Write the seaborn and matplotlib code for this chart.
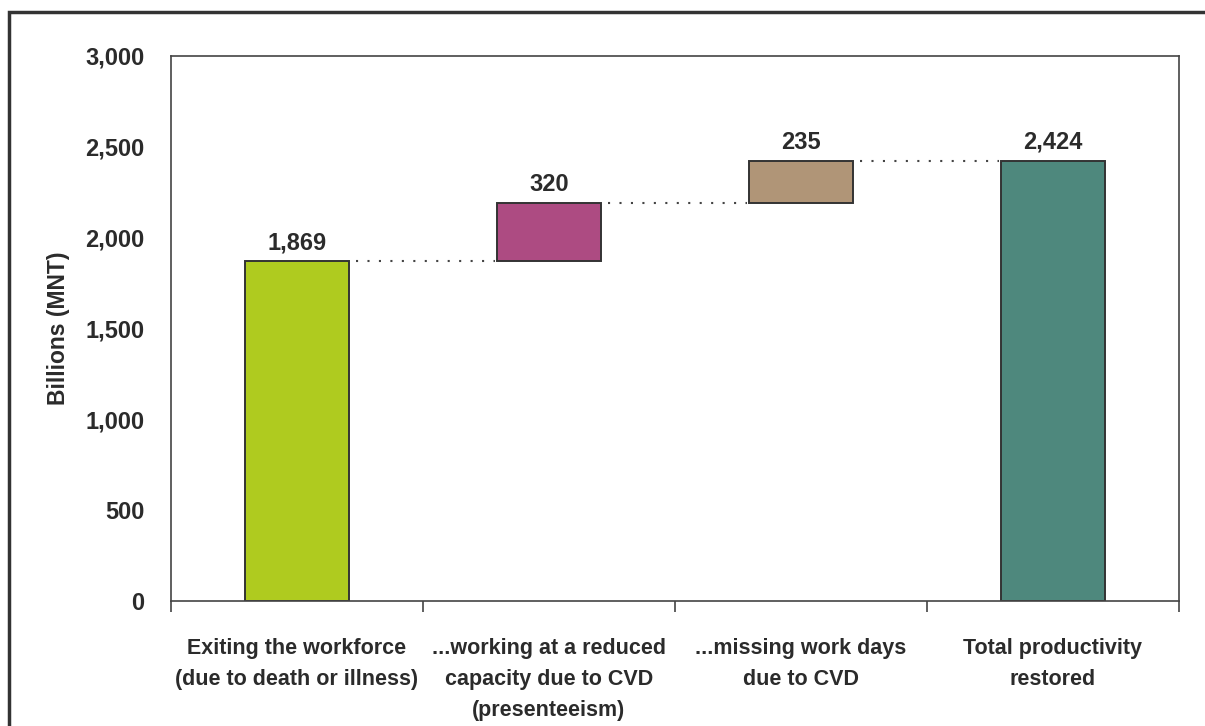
import matplotlib
matplotlib.use("Agg")
import matplotlib.pyplot as plt
from matplotlib.patches import Rectangle
from matplotlib.ticker import FuncFormatter
import seaborn as sns
import numpy as np

# Waterfall components (billions MNT)
categories = [
    "Exiting the workforce\n(due to death or illness)",
    "...working at a reduced\ncapacity due to CVD\n(presenteeism)",
    "...missing work days\ndue to CVD",
    "Total productivity\nrestored",
]
increments = [1869, 320, 235]
total = 2424
bar_colors = ["#AFCB1F", "#AD4B82", "#B09577", "#4E887D"]
y_ticks = [0, 500, 1000, 1500, 2000, 2500, 3000]

# Floating bar geometry: bottoms and tops of each step
bases = list(np.concatenate([[0], np.cumsum(increments)[:-1]])) + [0]
tops = list(np.cumsum(increments)) + [total]
labels = increments + [total]

sns.set_theme(style="white")
plt.rcParams["font.family"] = ["Liberation Sans", "DejaVu Sans"]
plt.rcParams["font.weight"] = "bold"
text_color = "#2b2b2b"

fig = plt.figure(figsize=(12.05, 7.26), dpi=100)
ax = fig.add_axes([0.1419, 0.1722, 0.8365, 0.7507])

sns.barplot(x=list(range(len(categories))), y=tops, hue=list(range(len(categories))),
            palette=bar_colors, legend=False, width=0.41, ax=ax,
            edgecolor="#333333", linewidth=1.4, saturation=1)

for patch, b, t in zip(ax.patches, bases, tops):
    patch.set_y(b)
    patch.set_height(t - b)

# Value labels above each bar
for patch, t, v in zip(ax.patches, tops, labels):
    cx = patch.get_x() + patch.get_width() / 2
    ax.annotate(f"{v:,}", (cx, t), xytext=(0, 5), textcoords="offset points",
                ha="center", va="bottom", fontsize=17, fontweight="bold",
                color=text_color)

# Dotted connectors between consecutive bars
for i in range(len(ax.patches) - 1):
    p, q = ax.patches[i], ax.patches[i + 1]
    ax.plot([p.get_x() + p.get_width() + 0.03, q.get_x() - 0.01], [tops[i], tops[i]],
            color="#444444", linewidth=1.5, linestyle=(0, (1.0, 4.5)), zorder=1)

ax.set_xlim(-0.5, len(categories) - 0.5)
ax.set_ylim(0, 3000)
ax.set_yticks(y_ticks)
ax.yaxis.set_major_formatter(FuncFormatter(lambda v, _: f"{int(v):,}"))
ax.tick_params(axis="y", length=0, pad=19, labelsize=17, labelcolor=text_color)
for lab in ax.get_yticklabels():
    lab.set_fontweight("bold")

# Category boundaries carry the tick marks; labels sit at bar centres
ax.set_xticks(np.arange(len(categories) + 1) - 0.5)
ax.set_xticklabels([])
ax.tick_params(axis="x", which="major", length=8, width=1.2, color="#444444", bottom=True)
ax.set_xticks(np.arange(len(categories)), minor=True)
ax.set_xticklabels(categories, minor=True, fontsize=15.5, fontweight="bold",
                   color=text_color, linespacing=1.6)
ax.tick_params(axis="x", which="minor", length=0, pad=27)

ax.set_xlabel("")
ax.set_ylabel("Billions (MNT)", fontsize=16.5, fontweight="bold", color=text_color, labelpad=0)
ax.yaxis.set_label_coords(-0.100, 0.5)

for s in ax.spines.values():
    s.set_visible(True)
    s.set_color("#444444")
    s.set_linewidth(1.2)

# Outer frame around the figure
fig.patches.append(Rectangle((9 / 1205, -0.05), 1.1, 1 - 12 / 726 + 0.05,
                             transform=fig.transFigure, fill=False,
                             edgecolor="#333333", linewidth=2.5, clip_on=False))

fig.savefig("out.png", dpi=100, facecolor="white")
